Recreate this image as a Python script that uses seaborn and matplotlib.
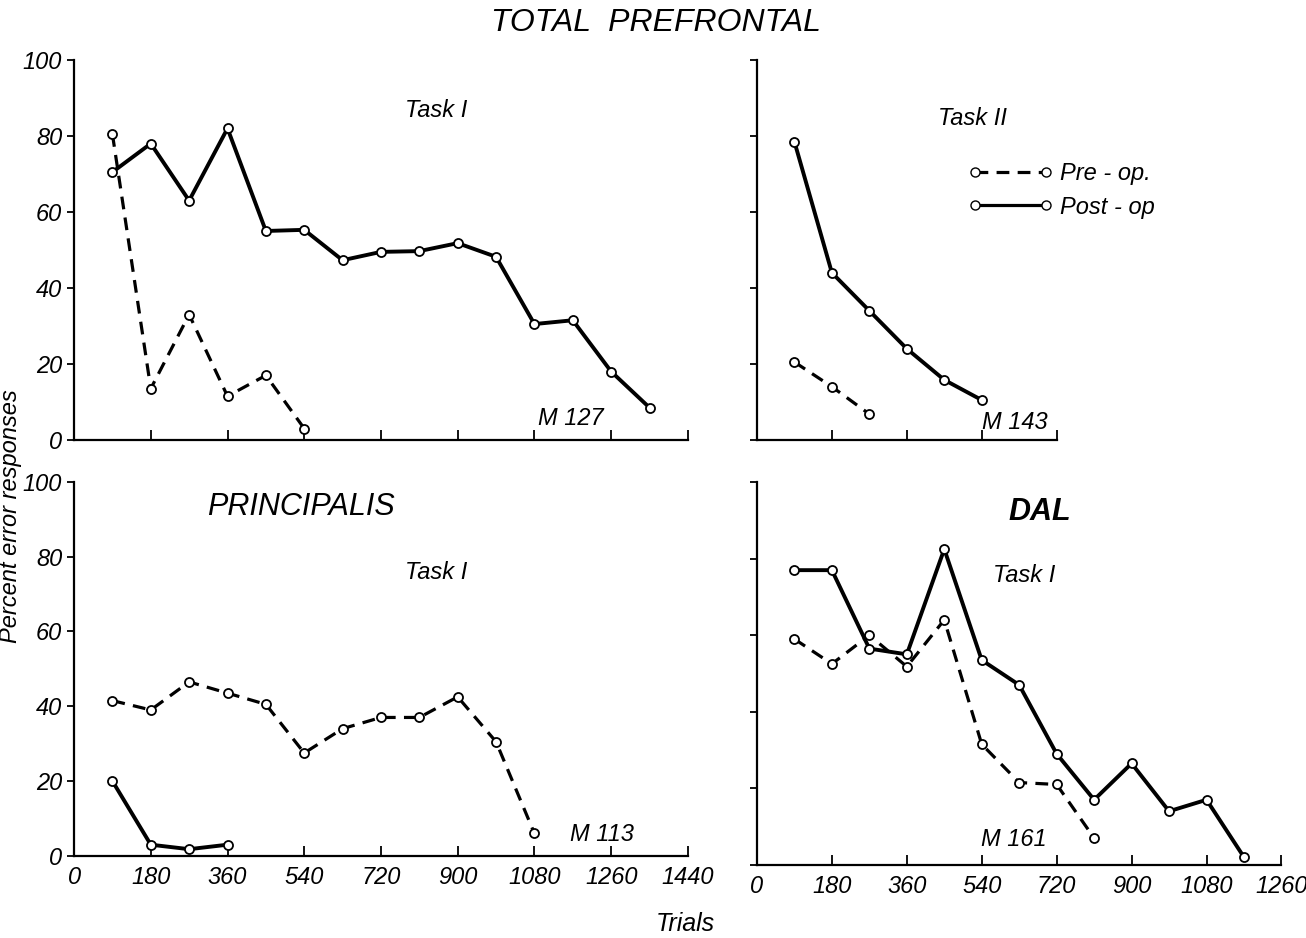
import pandas as pd
import matplotlib.pyplot as plt
import seaborn as sns
from matplotlib.lines import Line2D

# Dados (percentual de erros por bloco de 90 tentativas)
m127_post_x = [90, 180, 270, 360, 450, 540, 630, 720, 810, 900, 990, 1080, 1170, 1260, 1350]
m127_post_y = [70.5, 78, 63, 82, 55, 55.3, 47.3, 49.5, 49.7, 51.8, 48.2, 30.5, 31.5, 18, 8.5]
m127_pre_x = [90, 180, 270, 360, 450, 540]
m127_pre_y = [80.5, 13.5, 33, 11.5, 17, 3]

m143_post_x = [90, 180, 270, 360, 450, 540]
m143_post_y = [78.5, 44, 34, 24, 15.8, 10.5]
m143_pre_x = [90, 180, 270]
m143_pre_y = [20.5, 14, 6.8]

m113_pre_x = [90, 180, 270, 360, 450, 540, 630, 720, 810, 900, 990, 1080]
m113_pre_y = [41.5, 39, 46.5, 43.5, 40.5, 27.5, 34, 37, 37, 42.5, 30.5, 6]
m113_post_x = [90, 180, 270, 360]
m113_post_y = [20, 3, 1.8, 3]

m161_post_x = [90, 180, 270, 360, 450, 540, 630, 720, 810, 900, 990, 1080, 1170]
m161_post_y = [77, 77, 56.5, 55, 82.5, 53.5, 47, 29, 17, 26.5, 14, 17, 2]
m161_pre_x = [90, 180, 270, 360, 450, 540, 630, 720, 810]
m161_pre_y = [59, 52.5, 60, 51.8, 64, 31.5, 21.5, 21, 7]

yticks = [0, 20, 40, 60, 80, 100]
xticks_left = [0, 180, 360, 540, 720, 900, 1080, 1260, 1440]
xticks_right = [0, 180, 360, 540, 720, 900, 1080, 1260]

sns.set_style("ticks")
fonte = ['Liberation Sans', 'DejaVu Sans']
plt.rcParams['font.family'] = fonte
plt.rcParams['font.style'] = 'italic'
plt.rcParams['text.color'] = 'black'

fig = plt.figure(figsize=(13.06, 9.38), dpi=100)
ax_tl = fig.add_axes([0.0567, 0.531, 0.470, 0.405])
ax_tr = fig.add_axes([0.5796, 0.531, 0.2295, 0.405])
ax_bl = fig.add_axes([0.0567, 0.0875, 0.470, 0.399])
ax_br = fig.add_axes([0.5796, 0.078, 0.4016, 0.408])


def desenha(ax, x, y, tracejado):
    df = pd.DataFrame({'Trials': x, 'Percent': y})
    sns.lineplot(data=df, x='Trials', y='Percent', ax=ax, color='black',
                 linewidth=2.8 if not tracejado else 2.3,
                 linestyle=(0, (4, 2.6)) if tracejado else '-',
                 marker='o', markersize=6.5, markerfacecolor='white',
                 markeredgecolor='black', markeredgewidth=1.3, zorder=3)


desenha(ax_tl, m127_pre_x, m127_pre_y, True)
desenha(ax_tl, m127_post_x, m127_post_y, False)
desenha(ax_tr, m143_pre_x, m143_pre_y, True)
desenha(ax_tr, m143_post_x, m143_post_y, False)
desenha(ax_bl, m113_pre_x, m113_pre_y, True)
desenha(ax_bl, m113_post_x, m113_post_y, False)
desenha(ax_br, m161_pre_x, m161_pre_y, True)
desenha(ax_br, m161_post_x, m161_post_y, False)

for ax, xmax, xt in [(ax_tl, 1440, xticks_left), (ax_bl, 1440, xticks_left),
                     (ax_tr, 720, xticks_right[:5]), (ax_br, 1260, xticks_right)]:
    ax.set_xlim(0, xmax)
    ax.set_ylim(0, 100)
    ax.set_xticks(xt)
    ax.set_yticks(yticks)
    ax.set_xlabel('')
    ax.set_ylabel('')
    sns.despine(ax=ax)
    ax.spines['left'].set_linewidth(1.6)
    ax.spines['bottom'].set_linewidth(1.6)
    ax.spines['left'].set_color('black')
    ax.spines['bottom'].set_color('black')
    ax.tick_params(axis='x', direction='in', length=7, width=1.3, pad=7)
    ax.tick_params(axis='y', direction='out', length=5, width=1.3)
    ax.tick_params(labelsize=17, colors='black')
    ax.patch.set_alpha(0)

ax_tl.set_xticklabels([])
ax_tr.set_xticklabels([])
ax_tr.set_yticklabels([])
ax_br.set_yticklabels([])

# Textos dos painéis
fig.text(0.502, 0.975, 'TOTAL  PREFRONTAL', ha='center', va='center', fontsize=23)
ax_tl.text(0.59, 0.85, 'Task I', transform=ax_tl.transAxes, fontsize=17, ha='center')
ax_tl.text(0.81, 0.04, 'M 127', transform=ax_tl.transAxes, fontsize=17, ha='center')
ax_tr.text(0.72, 0.83, 'Task II', transform=ax_tr.transAxes, fontsize=17, ha='center')
ax_tr.text(0.86, 0.03, 'M 143', transform=ax_tr.transAxes, fontsize=17, ha='center')
ax_bl.text(0.37, 0.91, 'PRINCIPALIS', transform=ax_bl.transAxes, fontsize=22, ha='center')
ax_bl.text(0.59, 0.74, 'Task I', transform=ax_bl.transAxes, fontsize=17, ha='center')
ax_bl.text(0.86, 0.04, 'M 113', transform=ax_bl.transAxes, fontsize=17, ha='center')
ax_br.text(0.54, 0.90, 'DAL', transform=ax_br.transAxes, fontsize=22, ha='center',
           fontweight='bold')
ax_br.text(0.51, 0.74, 'Task I', transform=ax_br.transAxes, fontsize=17, ha='center')
ax_br.text(0.49, 0.05, 'M 161', transform=ax_br.transAxes, fontsize=17, ha='center')

fig.text(0.008, 0.45, 'Percent error responses', rotation=90, ha='center',
         va='center', fontsize=17)
fig.text(0.525, 0.015, 'Trials', ha='center', va='center', fontsize=18)

# Legenda
handles = [Line2D([0], [0], color='black', linestyle=(0, (4, 2.6)), linewidth=2.3,
                  marker='o', markersize=6.5, markerfacecolor='white',
                  markeredgecolor='black'),
           Line2D([0], [0], color='black', linestyle='-', linewidth=2.3,
                  marker='o', markersize=6.5, markerfacecolor='white',
                  markeredgecolor='black')]
fig.legend(handles, ['Pre - op.', 'Post - op'], loc='center left',
           bbox_to_anchor=(0.725, 0.797), numpoints=2, handlelength=3.6,
           frameon=False, fontsize=17, labelspacing=0.45, handletextpad=0.3)

plt.savefig('out.png', dpi=100)
